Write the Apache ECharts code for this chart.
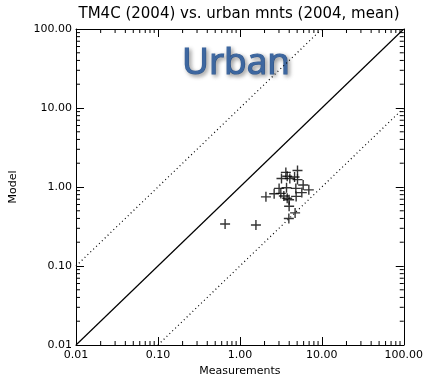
<!DOCTYPE html>
<html><head><meta charset="utf-8">
<script src="https://cdn.jsdelivr.net/npm/echarts@6/dist/echarts.min.js"></script>
<style>html,body{margin:0;padding:0;background:#fff}#c{width:426px;height:382px}</style>
</head><body><div id="c"></div>
<script>
var titleText = 'TM4C (2004) vs. urban mnts (2004, mean)';
var xName = 'Measurements';
var yName = 'Model';
var overlayText = 'Urban';
var axisMin = 0.01, axisMax = 100;
var measurements = [0.66,1.57,2.08,2.62,3.01,3.16,3.22,3.64,3.78,3.71,4.07,4.65,5.05,5.05,4.82,5.92,6.94,5.70,4.86,3.44,3.78,3.99,3.99,4.72,3.96];
var model        = [0.34,0.33,0.75,0.82,0.96,0.83,1.28,1.53,1.37,0.98,1.28,1.34,1.62,1.24,0.96,1.06,0.92,0.85,0.76,0.77,0.72,0.69,0.57,0.47,0.40];
var oneToOne = [[0.01,0.01],[100,100]];
var upperFactor = [[0.01,0.1],[10,100]];
var lowerFactor = [[0.1,0.01],[100,10]];
var minorVals = [];
[0.01,0.1,1,10].forEach(function(d){ for (var m=2;m<=9;m++) minorVals.push(+(m*d).toPrecision(3)); });

var font = 'DejaVu Sans';
var chart = echarts.init(document.getElementById('c'), null, {renderer:'canvas'});
function axisBase(pos, show) {
  return {
    type:'log', logBase:10, min:axisMin, max:axisMax, position:pos,
    axisLine:{show:true, onZero:false, lineStyle:{color:'#000', width:1}},
    axisTick:{show:true, inside:true, length:8, lineStyle:{color:'#000', width:1}},
    minorTick:{show:false},
    splitLine:{show:false},
    axisLabel:{show:show, color:'#000', fontFamily:font, fontSize:11,
      formatter:function(v){ return Number(v).toFixed(2); }}
  };
}
var xa = axisBase('bottom', true);
xa.name = xName; xa.nameLocation='middle'; xa.nameGap=21;
xa.nameTextStyle={color:'#000', fontFamily:font, fontSize:11};
xa.axisLabel.margin = 5;
var xb = axisBase('top', false);
var ya = axisBase('left', true);
ya.name = yName; ya.nameLocation='middle'; ya.nameGap=57; ya.nameRotate=90;
ya.nameTextStyle={color:'#000', fontFamily:font, fontSize:11};
ya.axisLabel.margin = 4;
var yb = axisBase('right', false);

var plusPath = 'path://M-0.14,-1H0.14V1H-0.14Z M-1,-0.14H1V0.14H-1Z';

chart.setOption({
  animation:false,
  backgroundColor:'#fff',
  grid:{left:76, right:22, top:29, bottom:29, containLabel:false},
  xAxis:[xa, xb],
  yAxis:[ya, yb],
  graphic:[
    {type:'text', x:239, y:14, silent:true,
      style:{text:titleText, fill:'#000', font:'15px "DejaVu Sans"', textAlign:'center', textVerticalAlign:'middle'}},
    {type:'text', x:236, y:63, z:0, silent:true,
      style:{text:overlayText, fill:'#3d67a0', font:'37px "Open Sans"',
        stroke:'#3d67a0', lineWidth:1.2,
        textAlign:'center', textVerticalAlign:'middle',
        shadowColor:'rgba(0,0,0,0.35)', shadowBlur:4, shadowOffsetX:2, shadowOffsetY:2,
        textShadowColor:'rgba(0,0,0,0.35)', textShadowBlur:4, textShadowOffsetX:2, textShadowOffsetY:2}}],
  series:[
    {type:'line', data:oneToOne, symbol:'none', lineStyle:{color:'#000', width:1.2}, z:2},
    {type:'line', data:upperFactor, symbol:'none', lineStyle:{color:'#000', width:1.2, type:[1,3]}, z:2},
    {type:'line', data:lowerFactor, symbol:'none', lineStyle:{color:'#000', width:1.2, type:[1,3]}, z:2},
    {type:'scatter', data:measurements.map(function(v,i){return [v, model[i]];}),
      symbol:plusPath, symbolSize:10, itemStyle:{color:'#000'}, z:5},
    {type:'custom', clip:false, silent:true, data:minorVals.map(function(v){return [v];}),
      encode:{x:0}, z:3,
      renderItem:function(params, api){
        var v = api.value(0);
        var b = api.coord([v, axisMin]), t = api.coord([v, axisMax]);
        var st = {stroke:'#000', lineWidth:1};
        return {type:'group', children:[
          {type:'line', shape:{x1:b[0], y1:b[1], x2:b[0], y2:b[1]-4}, style:st},
          {type:'line', shape:{x1:t[0], y1:t[1], x2:t[0], y2:t[1]+4}, style:st}]};
      }},
    {type:'custom', clip:false, silent:true, data:minorVals.map(function(v){return [axisMin, v];}),
      encode:{x:0, y:1}, z:3,
      renderItem:function(params, api){
        var v = api.value(1);
        var l = api.coord([axisMin, v]), r = api.coord([axisMax, v]);
        var st = {stroke:'#000', lineWidth:1};
        return {type:'group', children:[
          {type:'line', shape:{x1:l[0], y1:l[1], x2:l[0]+4, y2:l[1]}, style:st},
          {type:'line', shape:{x1:r[0], y1:r[1], x2:r[0]-4, y2:r[1]}, style:st}]};
      }}
  ]
});
</script></body></html>
